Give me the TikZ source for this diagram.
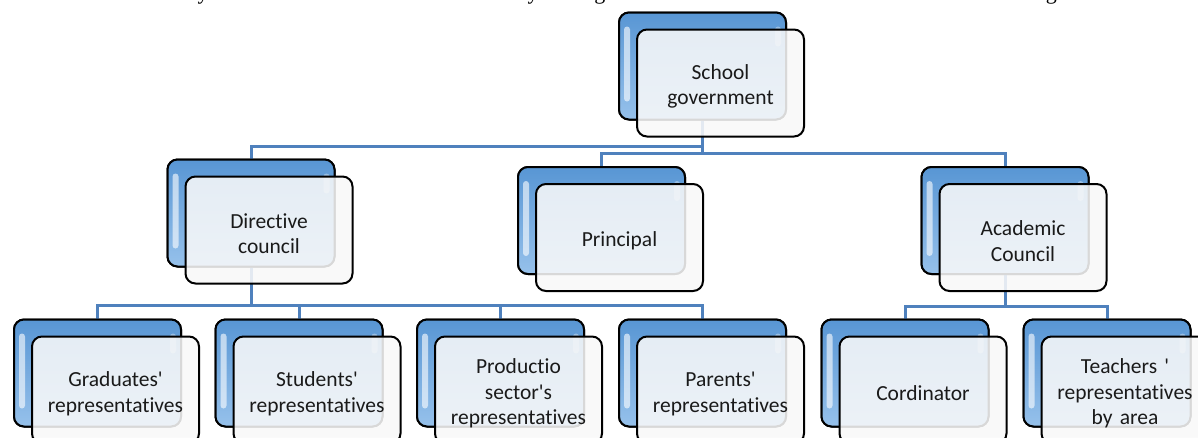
\documentclass[tikz,border=0pt]{standalone}
\usepackage{fontspec}
\setmainfont{Carlito}[Ligatures={NoCommon}]
\newfontfamily\bodyserif{Liberation Serif}
\newcommand{\sq}{\textquotesingle}
% taller first line: sets each label a little lower in its box
\newcommand{\fl}{\rule{0pt}{22pt}}
\begin{document}
\begin{tikzpicture}[x=1pt,y=-1pt,
  linkblue/.style={draw={rgb,255:red,79;green,129;blue,189}},
  link/.style={linkblue,line width=3pt},
  backbox/.style={draw=black,line width=2pt,rounded corners=10pt,
    minimum width=167pt,minimum height=107pt,inner sep=0pt,
    top color={rgb,255:red,88;green,150;blue,212},
    bottom color={rgb,255:red,150;green,193;blue,235},
    path picture={
      \fill[white,opacity=0.6,rounded corners=3pt]
        ([xshift=5pt,yshift=-14pt]path picture bounding box.north west)
        rectangle ([xshift=11pt,yshift=18pt]path picture bounding box.south west);
      \fill[white,opacity=0.35,rounded corners=3pt]
        ([xshift=-11pt,yshift=-14pt]path picture bounding box.north east)
        rectangle ([xshift=-5pt,yshift=-34pt]path picture bounding box.north east);
    }},
  frontbox/.style={draw=black,line width=2pt,rounded corners=10pt,
    minimum width=167pt,minimum height=107pt,inner sep=2pt,
    fill={rgb,255:red,249;green,249;blue,249},fill opacity=0.87,text opacity=1,
    text={rgb,255:red,26;green,26;blue,26},
    font=\fontsize{21.5}{25.5}\selectfont,align=center,text width=163pt},
]
\useasboundingbox (0,0) rectangle (1198,437);
\clip (0,0) rectangle (1198,437);
\fill[white] (0,0) rectangle (1198,437);

% running text above the chart (only its lowest part lies inside the frame)
\node[anchor=base east,inner sep=0pt,font=\bodyserif\fontsize{22}{26}\selectfont]
  (body) at (1112,-1) {the participation of the community in the education institutions and they are organized in the manner that is shown in the following chart.};

% levels of the horizontal connector bars
\coordinate (lvA) at (0,146);
\coordinate (lvB) at (0,153);
\coordinate (lvC) at (0,305);
\coordinate (lvD) at (0,306);

% back (blue) boxes
\node[backbox] (sgB) at (702.5,66) {};
\node[backbox] (dcB) at (251,213) {};
\node[backbox] (prB) at (601.5,220.5) {};
\node[backbox] (acB) at (1005,220.5) {};
\node[backbox] (grB) at (97.5,373) {};
\node[backbox] (stB) at (299,373) {};
\node[backbox] (psB) at (500.5,373) {};
\node[backbox] (paB) at (702.5,373) {};
\node[backbox] (coB) at (905,373) {};
\node[backbox] (teB) at (1107,373) {};

% connectors
\draw[link] (sgB.south) -- (sgB.south |- lvB) -| (acB.north);
\draw[link] (sgB.south |- lvB) -| (prB.north);
\draw[link] (sgB.south |- lvA) -| (dcB.north);
\draw[link] (dcB.south) -- (dcB.south |- lvC) -| (grB.north);
\draw[link] (dcB.south |- lvC) -| (stB.north);
\draw[link] (dcB.south |- lvC) -| (psB.north);
\draw[link] (dcB.south |- lvC) -| (paB.north);
\draw[link] (acB.south) -- (acB.south |- lvD) -| (coB.north);
\draw[link] (acB.south |- lvD) -| (teB.north);

% redraw back boxes over the connector ends
\foreach \b in {sgB,dcB,prB,acB,grB,stB,psB,paB,coB,teB}
  \node[backbox] at (\b.center) {};

% front (light) boxes with the labels
\node[frontbox] (sg) at ([shift={(18pt,-17pt)}]sgB.center) {\fl School\\government};
\node[frontbox] (dc) at ([shift={(18pt,-17pt)}]dcB.center) {\fl Directive\\council};
\node[frontbox] (pr) at ([shift={(18pt,-17pt)}]prB.center) {\fl Principal};
\node[frontbox] (ac) at ([shift={(18pt,-17pt)}]acB.center) {\fl Academic\\Council};
\node[frontbox] (gr) at ([shift={(18pt,-17pt)}]grB.center) {\fl Graduates\sq\\representatives};
\node[frontbox] (st) at ([shift={(18pt,-17pt)}]stB.center) {\fl Students\sq\\representatives};
\node[frontbox] (ps) at ([shift={(18pt,-17pt)}]psB.center) {\fl Productio\\sector\sq s\\representatives};
\node[frontbox] (pa) at ([shift={(18pt,-17pt)}]paB.center) {\fl Parents\sq\\representatives};
\node[frontbox] (co) at ([shift={(18pt,-17pt)}]coB.center) {\fl Cordinator};
\node[frontbox] (te) at ([shift={(18pt,-17pt)}]teB.center) {\fl Teachers \sq\\representatives\\by area};
\end{tikzpicture}
\end{document}
